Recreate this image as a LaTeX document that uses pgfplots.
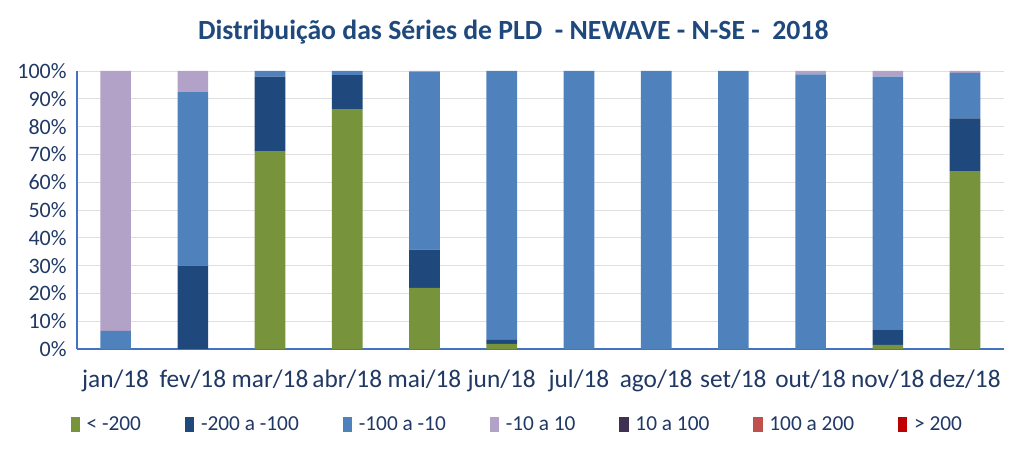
\documentclass[border=0pt]{standalone}
\usepackage{pgfplots}
\pgfplotsset{compat=1.18}
\usepackage{fontspec}
\setmainfont{Carlito}
\definecolor{cGreen}{HTML}{77933C}
\definecolor{cNavy}{HTML}{1F497D}
\definecolor{cBlue}{HTML}{4F81BD}
\definecolor{cLilac}{HTML}{B3A2C7}
\definecolor{cPurple}{HTML}{3F3151}
\definecolor{cRose}{HTML}{C0504D}
\definecolor{cRed}{HTML}{C00000}
\definecolor{cText}{HTML}{1F3864}
\definecolor{cAxis}{HTML}{4472C4}
\begin{document}
\begin{tikzpicture}
\useasboundingbox (0,0) rectangle (768pt,339pt);
\node[font=\bfseries\fontsize{20.8}{24}\selectfont, text=cNavy] at (385pt,315pt) {Distribuição das Séries de PLD\ \ - NEWAVE - N-SE -\ \ 2018};
\begin{axis}[
  at={(57.75pt,77.25pt)}, anchor=south west,
  scale only axis, width=695pt, height=208.5pt,
  ybar stacked, bar width=23pt,
  xmin=-0.5, xmax=11.5, ymin=0, ymax=100,
  xtick={0,...,11},
  xticklabels={jan/18,fev/18,mar/18,abr/18,mai/18,jun/18,jul/18,ago/18,set/18,out/18,nov/18,dez/18},
  extra x ticks={-0.5,0.5,...,11.5}, extra x tick labels={},
  extra x tick style={major tick length=5pt, tick style={cAxis, line width=0.8pt}, grid=none},
  major x tick style={draw=none},
  ytick={0,10,...,100},
  yticklabel={\pgfmathprintnumber{\tick}\%},
  /pgf/number format/assume math mode=true,
  y tick label style={font=\fontsize{16.5}{19}\selectfont, text=cText},
  x tick label style={font=\fontsize{19}{22}\selectfont, text=cText, yshift=-8pt},
  ymajorgrids, major grid style={color=gray!25, line width=0.6pt},
  major y tick style={draw=none},
  axis x line*=bottom, axis y line*=left,
  axis line style={cAxis, line width=0.8pt, -},
  tick align=outside,
  legend style={at={(0.5,-0.225)}, anchor=north, xshift=-17pt, draw=none, legend columns=7,
    font=\fontsize{16}{19}\selectfont, text=cText,
    /tikz/every odd column/.append style={column sep=3pt},
    /tikz/every even column/.append style={column sep=31pt}},
  legend image code/.code={\draw[#1, draw=none] (0pt,-5pt) rectangle (7pt,6pt);},
]
\addplot[fill=cGreen, draw=none] coordinates {(0,0) (1,0) (2,71) (3,86.3) (4,22) (5,1.8) (6,0) (7,0) (8,0) (9,0) (10,1.5) (11,64)};
\addplot[fill=cNavy, draw=none] coordinates {(0,0) (1,30) (2,27) (3,12.2) (4,13.7) (5,1.5) (6,0) (7,0) (8,0) (9,0) (10,5.3) (11,19)};
\addplot[fill=cBlue, draw=none] coordinates {(0,6.5) (1,62.4) (2,2) (3,1.5) (4,64.1) (5,96.7) (6,100) (7,100) (8,100) (9,98.8) (10,91.2) (11,16.3)};
\addplot[fill=cLilac, draw=none] coordinates {(0,93.5) (1,7.6) (2,0) (3,0) (4,0.2) (5,0) (6,0) (7,0) (8,0) (9,1.2) (10,2) (11,0.7)};
\addplot[fill=cPurple, draw=none] coordinates {(0,0) (1,0) (2,0) (3,0) (4,0) (5,0) (6,0) (7,0) (8,0) (9,0) (10,0) (11,0)};
\addplot[fill=cRose, draw=none] coordinates {(0,0) (1,0) (2,0) (3,0) (4,0) (5,0) (6,0) (7,0) (8,0) (9,0) (10,0) (11,0)};
\addplot[fill=cRed, draw=none] coordinates {(0,0) (1,0) (2,0) (3,0) (4,0) (5,0) (6,0) (7,0) (8,0) (9,0) (10,0) (11,0)};
\legend{< -200, -200 a -100, -100 a -10, -10 a 10, 10 a 100, 100 a 200, > 200}
\end{axis}
\end{tikzpicture}
\end{document}
